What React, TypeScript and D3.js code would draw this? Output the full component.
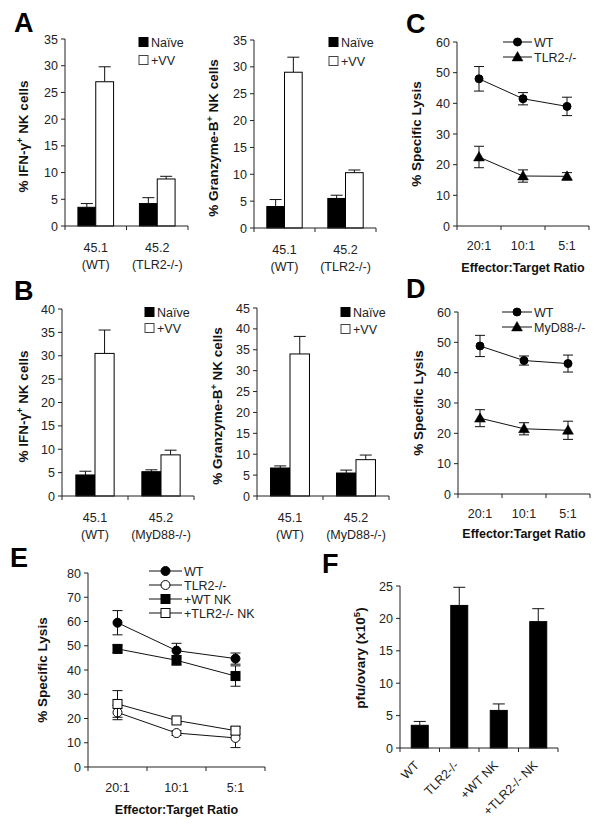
import React from 'react';
import * as d3 from 'd3';

const FONT = '"Liberation Sans", Arial, Helvetica, sans-serif';

// ---------- DATA ----------
const seriesBar = ['Naïve', '+VV'];
const catsA = [['45.1', '(WT)'], ['45.2', '(TLR2-/-)']];
const catsB = [['45.1', '(WT)'], ['45.2', '(MyD88-/-)']];

const aIfnNaive = [3.5, 4.2];
const aIfnNaiveErr = [0.7, 1.1];
const aIfnVV = [27.0, 8.8];
const aIfnVVErr = [2.8, 0.5];

const aGzbNaive = [4.0, 5.5];
const aGzbNaiveErr = [1.3, 0.6];
const aGzbVV = [29.0, 10.3];
const aGzbVVErr = [2.8, 0.5];

const bIfnNaive = [4.5, 5.2];
const bIfnNaiveErr = [0.8, 0.4];
const bIfnVV = [30.5, 8.8];
const bIfnVVErr = [5.0, 1.0];

const bGzbNaive = [6.7, 5.5];
const bGzbNaiveErr = [0.5, 0.7];
const bGzbVV = [34.0, 8.7];
const bGzbVVErr = [4.2, 1.1];

const ratios = ['20:1', '10:1', '5:1'];

const cWT = [48.0, 41.5, 39.0];
const cWTErr = [4.0, 2.0, 3.0];
const cTLR2 = [22.5, 16.3, 16.2];
const cTLR2Err = [3.5, 2.0, 1.2];

const dWT = [48.8, 44.0, 43.0];
const dWTErr = [3.5, 1.5, 2.8];
const dMyD = [25.0, 21.5, 21.0];
const dMyDErr = [2.8, 2.0, 3.0];

const eWT = [59.5, 48.0, 44.7];
const eWTErr = [5.0, 3.0, 2.3];
const eTLR2 = [22.5, 14.0, 12.0];
const eTLR2Err = [3.0, 1.0, 4.0];
const eWTNK = [48.7, 44.0, 37.5];
const eWTNKErr = [1.5, 2.0, 4.2];
const eTLR2NK = [26.0, 19.2, 15.0];
const eTLR2NKErr = [5.5, 1.0, 1.5];

const fGroups = ['WT', 'TLR2-/-', '+WT NK', '+TLR2-/- NK'];
const fMean = [3.5, 22.0, 5.8, 19.5];
const fErr = [0.6, 2.8, 1.0, 2.0];

// ---------- COMPONENTS ----------
const AX = '#222';
const TICK_FS = 12.5;
const YLAB_FS = 13.5;

function YAxis({ x, y, max, step, labelDx = 7 }: any) {
  const ticks = d3.range(0, max + step / 2, step);
  return (
    <g>
      <line x1={x} x2={x} y1={y(max)} y2={y(0)} stroke={AX} strokeWidth={1} />
      {ticks.map((t: number) => (
        <g key={t}>
          <line x1={x - 4} x2={x} y1={y(t)} y2={y(t)} stroke={AX} strokeWidth={1} />
          <text x={x - labelDx} y={y(t)} dy="0.36em" textAnchor="end" fontSize={TICK_FS} fontFamily={FONT} fill="#222">
            {t}
          </text>
        </g>
      ))}
    </g>
  );
}

function YLabel({ x, y, children }: any) {
  return (
    <text transform={`translate(${x},${y}) rotate(-90)`} textAnchor="middle" dy="0.36em" fontSize={YLAB_FS} fontWeight="bold" fontFamily={FONT} fill="#111">
      {children}
    </text>
  );
}

function BarPanel({ x0, x1, yTop, y0, max, step, cats, means, errs, ylabel, labelDx, legend, padInner }: any) {
  const y = d3.scaleLinear().domain([0, max]).range([y0, yTop]);
  const xb = d3.scaleBand().domain(cats.map((c: string[]) => c.join(' '))).range([x0, x1]).paddingInner(padInner).paddingOuter(padInner / 2);
  const xs = d3.scaleBand().domain(seriesBar).range([0, xb.bandwidth()]);
  const stepW = (x1 - x0) / cats.length;
  const fills = ['#000', '#fff'];
  return (
    <g>
      {cats.map((c: string[], gi: number) => (
        <g key={gi}>
          {seriesBar.map((s, si) => {
            const bx = (xb(c.join(' ')) as number) + (xs(s) as number);
            const v = means[si][gi];
            const e = errs[si][gi];
            const cx = bx + xs.bandwidth() / 2;
            return (
              <g key={s}>
                <line x1={cx} x2={cx} y1={y(v)} y2={y(v + e)} stroke="#111" strokeWidth={1} />
                <line x1={cx - 6} x2={cx + 6} y1={y(v + e)} y2={y(v + e)} stroke="#111" strokeWidth={1} />
                <rect x={bx} y={y(v)} width={xs.bandwidth()} height={y0 - y(v)} fill={fills[si]} stroke="#000" strokeWidth={1} />
              </g>
            );
          })}
          <text x={x0 + stepW * (gi + 0.5)} y={y0 + 26} textAnchor="middle" fontSize={TICK_FS} fontFamily={FONT} fill="#222">{c[0]}</text>
          <text x={x0 + stepW * (gi + 0.5)} y={y0 + 43} textAnchor="middle" fontSize={TICK_FS} fontFamily={FONT} fill="#222">{c[1]}</text>
        </g>
      ))}
      <YAxis x={x0} y={y} max={max} step={step} />
      <line x1={x0} x2={x1} y1={y0} y2={y0} stroke={AX} strokeWidth={1} />
      {d3.range(0, cats.length + 1).map((i: number) => (
        <line key={i} x1={x0 + stepW * i} x2={x0 + stepW * i} y1={y0} y2={y0 + 4} stroke={AX} strokeWidth={1} />
      ))}
      <YLabel x={x0 - labelDx} y={(y0 + yTop) / 2 + 4}>{ylabel}</YLabel>
      {seriesBar.map((s, si) => (
        <g key={s}>
          <rect x={legend.x} y={legend.y + si * legend.dy - 4.5} width={9} height={9} fill={fills[si]} stroke={si ? '#444' : '#000'} strokeWidth={1} />
          <text x={legend.x + 12} y={legend.y + si * legend.dy} dy="0.36em" fontSize={12.5} fontFamily={FONT} fill="#222">{s}</text>
        </g>
      ))}
    </g>
  );
}

function Marker({ type, x, y, size }: any) {
  if (type === 'circle' || type === 'ocircle') {
    return <circle cx={x} cy={y} r={size} fill={type === 'circle' ? '#000' : '#fff'} stroke="#000" strokeWidth={1} />;
  }
  if (type === 'square' || type === 'osquare') {
    return <rect x={x - size} y={y - size} width={size * 2} height={size * 2} fill={type === 'square' ? '#000' : '#fff'} stroke="#000" strokeWidth={1} />;
  }
  const p = d3.symbol().type(d3.symbolTriangle).size(size * size * 3.2)();
  return <path d={p as string} transform={`translate(${x},${y + 0.8})`} fill="#000" stroke="#000" strokeWidth={0.5} />;
}

function LinePanel({ x0, x1, yTop, y0, max, step, series, ylabel, labelDx, legend, titleDy, tickDy }: any) {
  const y = d3.scaleLinear().domain([0, max]).range([y0, yTop]);
  const x = d3.scalePoint().domain(ratios).range([x0, x1]).padding(0.5);
  const stepW = (x1 - x0) / ratios.length;
  const line = d3.line<number>().x((_d, i) => x(ratios[i]) as number).y((d) => y(d));
  return (
    <g>
      <YAxis x={x0} y={y} max={max} step={step} />
      <line x1={x0} x2={x1} y1={y0} y2={y0} stroke={AX} strokeWidth={1} />
      {d3.range(0, ratios.length + 1).map((i: number) => (
        <line key={i} x1={x0 + stepW * i} x2={x0 + stepW * i} y1={y0} y2={y0 + 4} stroke={AX} strokeWidth={1} />
      ))}
      {ratios.map((r) => (
        <text key={r} x={x(r)} y={y0 + tickDy} textAnchor="middle" fontSize={TICK_FS} fontFamily={FONT} fill="#222">{r}</text>
      ))}
      <text x={(x0 + x1) / 2} y={y0 + titleDy} textAnchor="middle" fontSize={12.5} fontWeight="bold" fontFamily={FONT} fill="#111">Effector:Target Ratio</text>
      {series.map((s: any) => (
        <g key={s.name}>
          <path d={line(s.values) as string} fill="none" stroke="#111" strokeWidth={1} />
          {s.values.map((v: number, i: number) => {
            const cx = x(ratios[i]) as number;
            return (
              <g key={i}>
                <line x1={cx} x2={cx} y1={y(v - s.errs[i])} y2={y(v + s.errs[i])} stroke="#111" strokeWidth={1} />
                <line x1={cx - 5} x2={cx + 5} y1={y(v + s.errs[i])} y2={y(v + s.errs[i])} stroke="#111" strokeWidth={1} />
                <line x1={cx - 5} x2={cx + 5} y1={y(v - s.errs[i])} y2={y(v - s.errs[i])} stroke="#111" strokeWidth={1} />
              </g>
            );
          })}
          {s.values.map((v: number, i: number) => (
            <Marker key={'m' + i} type={s.type} x={x(ratios[i]) as number} y={y(v)} size={s.size} />
          ))}
        </g>
      ))}
      <YLabel x={x0 - labelDx} y={(y0 + yTop) / 2}>{ylabel}</YLabel>
      {series.map((s: any, i: number) => {
        const ly = legend.y + i * legend.dy;
        return (
          <g key={'l' + s.name}>
            <line x1={legend.x} x2={legend.x + legend.w} y1={ly} y2={ly} stroke="#111" strokeWidth={1} />
            <Marker type={s.type} x={legend.x + legend.w / 2} y={ly} size={s.size} />
            <text x={legend.x + legend.w + 2} y={ly} dy="0.36em" fontSize={12.5} fontFamily={FONT} fill="#222">{s.name}</text>
          </g>
        );
      })}
    </g>
  );
}

function FPanel({ x0, x1, yTop, y0, max, step }: any) {
  const y = d3.scaleLinear().domain([0, max]).range([y0, yTop]);
  const xb = d3.scaleBand().domain(fGroups).range([x0, x1]).paddingInner(0.57).paddingOuter(0.285);
  const stepW = (x1 - x0) / fGroups.length;
  return (
    <g>
      {fGroups.map((g, i) => {
        const bx = xb(g) as number;
        const cx = bx + xb.bandwidth() / 2;
        const v = fMean[i];
        const e = fErr[i];
        return (
          <g key={g}>
            <line x1={cx} x2={cx} y1={y(v)} y2={y(v + e)} stroke="#111" strokeWidth={1} />
            <line x1={cx - 6} x2={cx + 6} y1={y(v + e)} y2={y(v + e)} stroke="#111" strokeWidth={1} />
            <rect x={bx} y={y(v)} width={xb.bandwidth()} height={y0 - y(v)} fill="#000" stroke="#000" />
            <text transform={`translate(${cx - 3},${y0 + 15}) rotate(-45)`} textAnchor="end" dy="0.36em" fontSize={TICK_FS} fontFamily={FONT} fill="#222">{g}</text>
          </g>
        );
      })}
      <YAxis x={x0} y={y} max={max} step={step} />
      <line x1={x0} x2={x1} y1={y0} y2={y0} stroke={AX} strokeWidth={1} />
      {d3.range(0, fGroups.length + 1).map((i: number) => (
        <line key={i} x1={x0 + stepW * i} x2={x0 + stepW * i} y1={y0} y2={y0 + 4} stroke={AX} strokeWidth={1} />
      ))}
      <YLabel x={x0 - 40} y={658}>
        pfu/ovary (x10<tspan dy="-5" fontSize={9.5}>5</tspan><tspan dy="5">)</tspan>
      </YLabel>
    </g>
  );
}

function Letter({ x, y, children }: any) {
  return <text x={x} y={y} fontSize={27} fontWeight="bold" fontFamily={FONT} fill="#000">{children}</text>;
}

const ifnLabel = (
  <>% IFN-γ<tspan dy="-5" fontSize={9}>+</tspan><tspan dy="5"> NK cells</tspan></>
);
const gzbLabel = (
  <>% Granzyme-B<tspan dy="-5" fontSize={9}>+</tspan><tspan dy="5"> NK cells</tspan></>
);

export default function App() {
  return (
    <svg width={600} height={836} style={{ position: 'absolute', left: 0, top: 0, background: '#fff' }}>
      <rect width={600} height={836} fill="#fff" />
      <Letter x={14} y={32}>A</Letter>
      <Letter x={406} y={33}>C</Letter>
      <Letter x={14} y={300}>B</Letter>
      <Letter x={406} y={298}>D</Letter>
      <Letter x={10} y={567}>E</Letter>
      <Letter x={322} y={573}>F</Letter>

      <BarPanel x0={65} x1={188} yTop={39} y0={226} max={35} step={5} cats={catsA}
        means={[aIfnNaive, aIfnVV]} errs={[aIfnNaiveErr, aIfnVVErr]} ylabel={ifnLabel} labelDx={42}
        legend={{ x: 139, y: 42, dy: 18 }} padInner={0.42} />
      <BarPanel x0={254} x1={376} yTop={40} y0={228} max={35} step={5} cats={catsA}
        means={[aGzbNaive, aGzbVV]} errs={[aGzbNaiveErr, aGzbVVErr]} ylabel={gzbLabel} labelDx={41}
        legend={{ x: 329, y: 42, dy: 19 }} padInner={0.42} />
      <BarPanel x0={62} x1={194} yTop={309} y0={496} max={40} step={5} cats={catsB}
        means={[bIfnNaive, bIfnVV]} errs={[bIfnNaiveErr, bIfnVVErr]} ylabel={ifnLabel} labelDx={39}
        legend={{ x: 145, y: 312, dy: 16 }} padInner={0.42} />
      <BarPanel x0={257} x1={389} yTop={308} y0={496} max={45} step={5} cats={catsB}
        means={[bGzbNaive, bGzbVV]} errs={[bGzbNaiveErr, bGzbVVErr]} ylabel={gzbLabel} labelDx={40}
        legend={{ x: 341, y: 312, dy: 17 }} padInner={0.41} />

      <LinePanel x0={457} x1={589} yTop={42} y0={226} max={60} step={10} labelDx={41}
        ylabel="% Specific Lysis" titleDy={46} tickDy={24}
        legend={{ x: 503, y: 42, dy: 15, w: 29 }}
        series={[
          { name: 'WT', values: cWT, errs: cWTErr, type: 'circle', size: 4 },
          { name: 'TLR2-/-', values: cTLR2, errs: cTLR2Err, type: 'triangle', size: 4 },
        ]} />
      <LinePanel x0={458} x1={590} yTop={312} y0={494} max={60} step={10} labelDx={40}
        ylabel="% Specific Lysis" titleDy={44} tickDy={24}
        legend={{ x: 502, y: 312, dy: 15, w: 30 }}
        series={[
          { name: 'WT', values: dWT, errs: dWTErr, type: 'circle', size: 4 },
          { name: 'MyD88-/-', values: dMyD, errs: dMyDErr, type: 'triangle', size: 4 },
        ]} />
      <LinePanel x0={88} x1={265} yTop={573} y0={767} max={80} step={10} labelDx={46}
        ylabel="% Specific Lysis" titleDy={47} tickDy={25}
        legend={{ x: 149, y: 571, dy: 14, w: 33 }}
        series={[
          { name: 'WT', values: eWT, errs: eWTErr, type: 'circle', size: 4.5 },
          { name: 'TLR2-/-', values: eTLR2, errs: eTLR2Err, type: 'ocircle', size: 4.5 },
          { name: '+WT NK', values: eWTNK, errs: eWTNKErr, type: 'square', size: 4.5 },
          { name: '+TLR2-/- NK', values: eTLR2NK, errs: eTLR2NKErr, type: 'osquare', size: 4.5 },
        ]} />
      <FPanel x0={400} x1={558} yTop={586} y0={748} max={25} step={5} />
    </svg>
  );
}
